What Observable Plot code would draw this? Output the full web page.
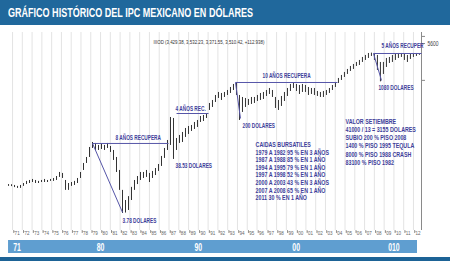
<!DOCTYPE html>
<html><head><meta charset="utf-8">
<script src="https://cdn.jsdelivr.net/npm/d3@7"></script>
<script src="https://cdn.jsdelivr.net/npm/@observablehq/plot@0.6"></script>
<style>
body{margin:0;background:#fff;width:450px;height:261px;overflow:hidden;font-family:"Liberation Sans",Arial,sans-serif;}
#title{height:25px;background:#20689c;color:#fff;font-family:"Liberation Sans",Arial,sans-serif;font-weight:bold;font-size:13.5px;line-height:26px;padding-left:8px;white-space:nowrap;overflow:hidden}
#title span{display:inline-block;transform-origin:0 50%}
#strip{height:4px;background:#1d6396;margin-top:4px}
svg{display:block}
</style></head><body>
<div id="title"><span>GRÁFICO HISTÓRICO DEL IPC MEXICANO EN DÓLARES</span></div>
<div id="chart"></div>
<div id="decades"></div>
<div id="strip"></div>
<script>
// ---- data (IPC in US dollars, bars about every 3.7 months) ----
const firstBar = 1970.59, barStep = 0.3067;
const lows = [
 12.1,12.0,11.5,11.1,11.1,12.1,13.1,13.7,14.3,13.7,
 13.7,14.3,14.3,14.3,15.0,15.0,15.6,17.8,17.0,10.2,
 10.2,12.1,12.6,13.7,17.0,24.0,32.4,41.9,61.7,56.6,
 56.6,59.1,56.6,61.7,52.0,36.9,22.0,10.2,3.78,3.85,
 4.3,6.6,10.2,13.1,15.6,17.0,17.8,14.3,17.0,19.3,
 23.0,28.5,40.2,56.6,70.2,38.5,56.6,76.5,79.8,99.0,
 112.6,128.1,139.5,152.1,188.5,196.8,223.8,315.6,359.1,445,
 528.5,485,551.6,601.2,655.1,745.3,601.2,205.4,289.7,359.1,
 391.3,408.5,426.4,464.6,485,506.3,575.9,627.6,551.6,344,
 315.6,374.9,464.6,575.9,714,812.1,714,627.6,683.9,683.9,
 601.2,627.6,601.2,575.9,551.6,551.6,601.2,655.1,745.3,847.8,
 1006.7,1145,1303,1482,1686,1837,2090,2182,2482,2704,
 2947,3211,2704,1760,1080,1482,2002,2378,2482,2704,
 2947,3076,2704,2482,2823,3076,3211,3371.55
];
const highs = [
 13.1,13.0,12.6,12.1,12.6,13.7,15.0,15.6,16.3,15.6,
 15.0,15.6,16.3,15.6,16.3,17.0,18.5,22.0,21.1,15.6,
 13.7,14.3,15.0,17.0,22.0,32.4,41.9,64.4,79.8,76.5,
 70.2,73.2,70.2,76.5,67.2,56.6,41.9,24.0,10.2,6.6,
 7.8,11.6,15.6,18.5,22.0,22.0,24.0,21.1,23.0,26.1,
 31.0,43.8,61.7,87.0,233.7,223.8,94.8,107.8,122.7,145.7,
 158.7,165.7,188.5,205.4,243.9,254.6,270,426.4,485,601.2,
 683.9,655.1,683.9,745.3,847.8,964.5,1050.9,601.2,551.6,528.5,
 506.3,551.6,551.6,601.2,655.1,683.9,745.3,812.1,745.3,551.6,
 485,575.9,683.9,812.1,964.5,1006,964.5,923.8,964.5,923.8,
 847.8,812.1,812.1,714,683.9,714,745.3,812.1,923.8,1050.9,
 1248,1420,1615,1837,2090,2278,2482,2704,3076,3352,
 3652,3700,3652,3352,2482,2482,2947,3076,3352,3499,
 3652,3652,3499,3352,3499,3652,3652,3532.23
];
const yearTicks = [1971,1972,1973,1974,1975,1976,1977,1978,1979,1980,1981,1982,1983,1984,1985,1986,1987,1988,1989,1990,1991,1992,1993,1994,1995,1996,1997,1998,1999,2000,2001,2002,2003,2004,2005,2006,2007,2008,2009,2010,2011,2012];
const decadeYears = [1971.46,1980,1990,2000,2010];
const decadeLabels = ["71","80","90","00","010"];
const rightTicks = [5600];
const legendText = "IIIOD (3,429.38, 3,532.23, 3,371.55, 3,510.42, +112.938)";
const noteTexts = ["8 AÑOS RECUPERA","3.78 DOLARES","4 AÑOS REC.","38.53 DOLARES","10 AÑOS RECUPERA","200 DOLARES","5 AÑOS RECUPER","1080 DOLARES"];
const noteYears = [1981.53,1982.25,1987.67,1987.67,1996.56,1994.52,2008.73,2008.42];
const noteValues = [99,2.79,343,29.7,1420,166,5140,848];
const caidas = ["CAIDAS BURSATILES","1979 A 1982 95 % EN 3 AÑOS","1987 A 1988 85 % EN 1 AÑO","1994 A 1995 79 % EN 1 AÑO","1997 A 1998 52 % EN 1 AÑO","2000 A 2003 43 % EN 3 AÑOS","2007 A 2008 65 % EN 1 AÑO","2011 30 % EN 1 AÑO"];
const valor = ["VALOR SETIEMBRE","41000 / 13 = 3155 DOLARES","SUBIO 200 % PISO 2008","1400 % PISO 1995 TEQULA","8000 % PISO 1988 CRASH","83100 % PISO 1982"];
// recovery guide lines: [year1, value1, year2, value2]
const guides = [
 [1979.18,76.5,1986.95,76.5],[1979.18,76.5,1982.25,3.95],
 [1987.77,277,1991.04,277],
 [1993.80,1050,2004.23,1050],[1993.80,1050,1994.31,224],
 [2007.91,3650,2012.82,3650],[2007.91,3650,2008.73,1145]
];

const bars = lows.map((lo,i)=>({date:firstBar+i*barStep, low:lo, high:highs[i]}));
const notes = noteTexts.map((t,i)=>({t, x:noteYears[i], y:noteValues[i]}));
const guideRows = guides.map(g=>({x1:g[0],y1:g[1],x2:g[2],y2:g[3]}));
const xDomain = [1970.28, 2012.82];
const noteColor = "#3e3e9a";
const font = '"Liberation Sans",Arial,sans-serif';

const main = Plot.plot({
  width:450, height:213, marginTop:7, marginBottom:8, marginLeft:5, marginRight:29,
  x:{domain:xDomain},
  y:{type:"log", domain:[1.82, 8990]},
  style:{fontFamily:font, background:"transparent", overflow:"visible"},
  marks:[
    Plot.ruleX(yearTicks, {stroke:"#e0e0e0", strokeWidth:0.9}),
    Plot.ruleX([xDomain[1]], {stroke:"#8a8a8a", strokeWidth:1}),
    Plot.axisX({ticks:yearTicks, tickSize:3, tickPadding:-3, textAnchor:"start", dx:1.2, fontSize:6, stroke:"#999", fill:"#666", tickFormat:d=>"'"+String(d).slice(2)}),
    Plot.axisY({anchor:"right", ticks:[1150, 5600, 7600], tickSize:3, stroke:"#888", tickFormat:()=>""}),
    Plot.text(rightTicks, {x:()=>xDomain[1], y:d=>d, text:d=>String(d), dx:6, textAnchor:"start", fontSize:6.5, fill:"#444"}),
    Plot.ruleX(bars, {x:"date", y1:"low", y2:"high", stroke:"#333", strokeWidth:1}),
    Plot.link(guideRows, {x1:"x1", y1:"y1", x2:"x2", y2:"y2", stroke:"#5656a8", strokeWidth:1}),
    Plot.text(notes, {x:"x", y:"y", text:"t", textAnchor:"start", fontSize:7, fontWeight:"bold", fill:noteColor}),
    Plot.text([caidas.join("\n")], {x:()=>1995.85, y:()=>83.3, text:d=>d, textAnchor:"start", lineAnchor:"top", lineHeight:1.09, fontSize:7, fontWeight:"bold", fill:noteColor}),
    Plot.text([valor.join("\n")], {x:()=>2005.05, y:()=>228.8, text:d=>d, textAnchor:"start", lineAnchor:"top", lineHeight:1.17, fontSize:7, fontWeight:"bold", fill:noteColor}),
    Plot.text([legendText], {x:()=>1985.42, y:()=>5850, text:d=>d, textAnchor:"start", fontSize:5.8, fill:"#333"})
  ]
});
document.getElementById("chart").append(main);

const dec = Plot.plot({
  width:450, height:15, marginTop:2, marginBottom:0, marginLeft:5, marginRight:29,
  x:{domain:xDomain, axis:null},
  style:{fontFamily:font, background:"transparent"},
  marks:[
    Plot.rect([{x1:1970.59, x2:2012.41}], {x1:"x1", x2:"x2", fill:"#5f9ed0"}),
    Plot.text(decadeLabels, {x:(d,i)=>decadeYears[i], text:d=>d, frameAnchor:"middle", fill:"#fff", fontSize:11.5, fontWeight:"bold"})
  ]
});
document.getElementById("decades").append(dec);

// narrow (condensed) look: squeeze each text horizontally about its anchor
function squeeze(list, s){
  list.forEach(t=>{
    const x = +(t.getAttribute("x")||0);
    const tr = t.getAttribute("transform")||"";
    t.setAttribute("transform", `${tr} translate(${x} 0) scale(${s} 1) translate(${-x} 0)`.trim());
  });
}
const allText = [...main.querySelectorAll("text")];
const isNote = t => noteTexts.includes(t.textContent.trim());
squeeze(allText.filter(t=>!isNote(t)), 0.76);
squeeze(allText.filter(isNote), 0.68);
squeeze([...dec.querySelectorAll("text")], 0.6);

const span = document.querySelector("#title span");
const w = span.getBoundingClientRect().width;
span.style.transform = `scaleX(${245/w})`;
</script>
</body></html>
